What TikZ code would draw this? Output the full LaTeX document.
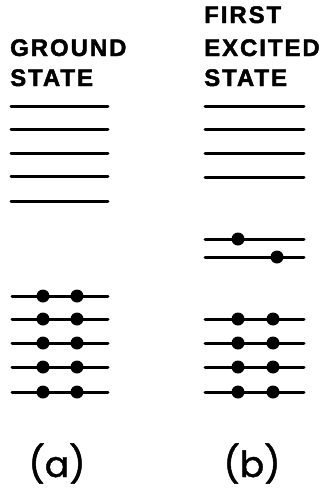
\documentclass[tikz,border=0pt]{standalone}
\usepackage{fontspec}
\newfontfamily\headfont{Liberation Sans}[LetterSpace=8,FakeBold=1.8]
\newfontfamily\labfont{Poppins}[FakeBold=1.2]
\begin{document}
\begin{tikzpicture}[x=1pt,y=-1pt,
  level/.style={line width=3pt,line cap=round},
  electron/.style={circle,fill=black,inner sep=0pt,minimum size=13pt},
  head/.style={anchor=base west,inner sep=0pt,font=\headfont\bfseries\fontsize{24}{24}\selectfont},
  lab/.style={anchor=base,inner sep=0pt,font=\labfont\fontsize{36}{36}\selectfont}]
\useasboundingbox (0,0) rectangle (326,490);
% headings
\node[head] (g1) at (10,56) {GROUND};
\node[head] (g2) at (10,86) {STATE};
\node[head] (e1) at (204,23) {FIRST};
\node[head] (e2) at (204,56) {EXCITED};
\node[head] (e3) at (204,86) {STATE};
% ground state empty levels
\foreach \y [count=\i] in {106,129,153,176,201}{
  \coordinate (ga\i) at (11,\y); \coordinate (gb\i) at (108,\y);
  \draw[level] (ga\i) -- (gb\i);}
% ground state filled levels
\foreach \y [count=\i] in {296,319,343,367,392}{
  \coordinate (fa\i) at (12,\y); \coordinate (fb\i) at (108,\y);
  \draw[level] (fa\i) -- (fb\i);
  \node[electron] (gl\i) at (43,\y) {};
  \node[electron] (gr\i) at (77,\y) {};}
% excited state empty levels
\foreach \y [count=\i] in {106,129,153,177}{
  \coordinate (ea\i) at (205,\y); \coordinate (eb\i) at (304,\y);
  \draw[level] (ea\i) -- (eb\i);}
% excited partially filled levels
\coordinate (pa1) at (205,239); \coordinate (pb1) at (304,239);
\coordinate (pa2) at (205,257); \coordinate (pb2) at (304,257);
\draw[level] (pa1) -- (pb1);
\draw[level] (pa2) -- (pb2);
\node[electron] (x1) at (238,239) {};
\node[electron] (x2) at (277,257) {};
% excited filled levels
\foreach \y [count=\i] in {319,343,367,392}{
  \coordinate (ha\i) at (205,\y); \coordinate (hb\i) at (304,\y);
  \draw[level] (ha\i) -- (hb\i);
  \node[electron] (el\i) at (238,\y) {};
  \node[electron] (er\i) at (273,\y) {};}
% labels
\node[lab] (la) at (57,477) {(a)};
\node[lab] (lb) at (252,477) {(b)};
\end{tikzpicture}
\end{document}
